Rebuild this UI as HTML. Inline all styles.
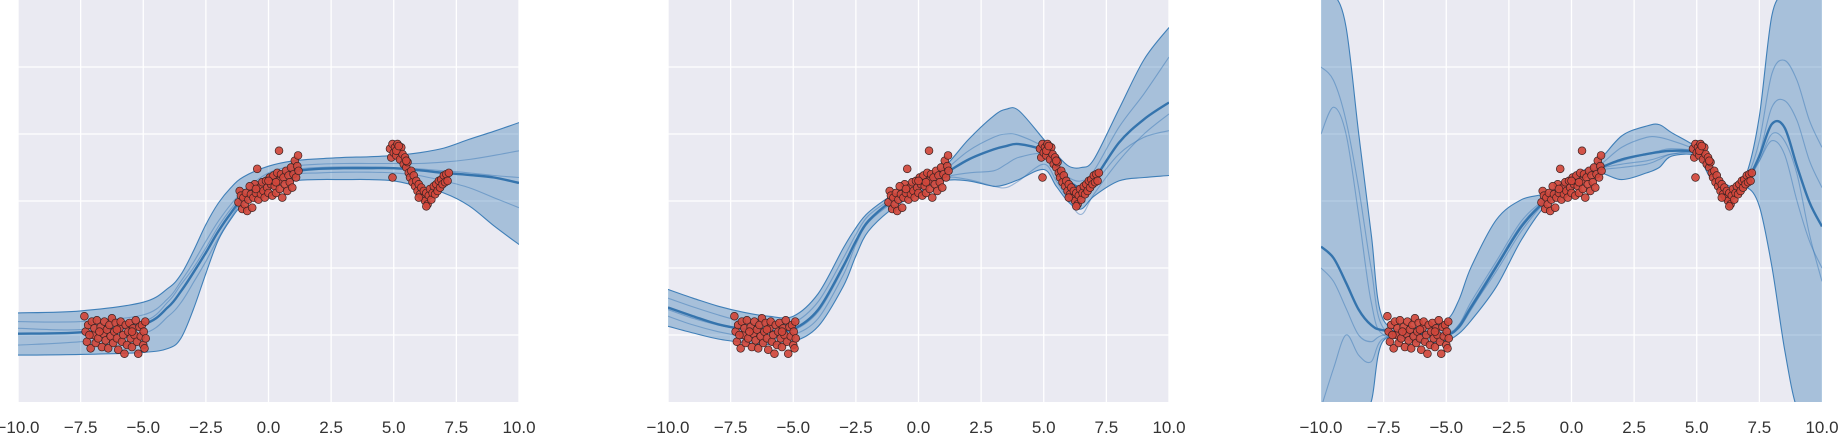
<!DOCTYPE html>
<html><head><meta charset="utf-8">
<style>
html,body{margin:0;padding:0;background:#fff;width:1848px;height:448px;overflow:hidden}
svg{display:block;overflow:hidden}
text{font-family:"Liberation Sans",sans-serif;font-size:17px;fill:#333}
</style></head>
<body>
<svg id="chart" width="1848" height="448" viewBox="0 0 1848 448" xmlns="http://www.w3.org/2000/svg"></svg>
<script>
const xTicks=[-10,-7.5,-5,-2.5,0,2.5,5,7.5,10];
const xTickLabels=["\u221210.0","\u22127.5","\u22125.0","\u22122.5","0.0","2.5","5.0","7.5","10.0"];
const yGrid=[-2,-1,0,1,2];
const dataPoints=[[-7.35,-1.72],[-7.3,-1.95],[-7.25,-2.1],[-7.2,-1.85],[-7.1,-2.2],[-7.05,-1.8],[-7.0,-2.0],[-6.95,-1.9],[-6.9,-2.12],[-6.85,-1.78],[-6.8,-2.05],[-6.7,-1.88],[-6.65,-2.18],[-6.6,-1.98],[-6.55,-1.8],[-6.5,-2.08],[-6.45,-1.92],[-6.4,-2.2],[-6.35,-1.85],[-6.3,-2.02],[-6.25,-1.75],[-6.2,-2.12],[-6.15,-1.95],[-6.1,-1.82],[-6.05,-2.05],[-6.0,-2.22],[-5.95,-1.9],[-5.9,-1.8],[-5.85,-2.1],[-5.8,-2.0],[-5.75,-2.28],[-5.7,-1.85],[-5.65,-2.15],[-5.6,-1.95],[-5.55,-1.82],[-5.5,-2.05],[-5.45,-2.18],[-5.4,-1.9],[-5.35,-2.0],[-5.3,-1.78],[-5.25,-2.1],[-5.2,-2.28],[-5.15,-1.88],[-5.1,-2.02],[-5.05,-1.85],[-5.0,-2.15],[-4.98,-1.95],[-4.95,-2.2],[-4.92,-1.8],[-4.9,-2.05],[-7.15,-2.0],[-6.75,-1.95],[-6.05,-1.92],[-5.45,-1.95],
[-1.2,-0.02],[-1.15,0.15],[-1.1,0.08],[-1.05,-0.12],[-1.0,0.05],[-0.95,-0.05],[-0.9,0.12],[-0.85,-0.15],[-0.8,0.02],[-0.7,0.1],[-0.65,-0.1],[-0.6,0.05],[-0.55,0.25],[-0.5,0.12],[-0.45,0.48],[-0.4,0.02],[-0.35,0.2],[-0.3,0.1],[-0.25,0.28],[-0.2,0.15],[-0.15,0.05],[-0.1,0.3],[-0.05,0.2],[0.0,0.12],[0.05,0.35],[0.1,0.25],[0.15,0.08],[0.2,0.38],[0.25,0.22],[0.3,0.12],[0.35,0.42],[0.4,0.3],[0.42,0.75],[0.45,0.18],[0.5,0.4],[0.55,0.05],[0.6,0.35],[0.65,0.25],[0.7,0.45],[0.75,0.15],[0.8,0.38],[0.85,0.28],[0.9,0.5],[0.95,0.2],[1.0,0.4],[1.05,0.6],[1.1,0.35],[1.15,0.52],[1.18,0.68],[1.2,0.45],[-0.75,0.22],[0.0,0.3],[0.3,0.28],[-0.5,0.18],
[4.85,0.78],[4.9,0.65],[4.95,0.35],[4.95,0.85],[5.0,0.72],[5.05,0.8],[5.1,0.68],[5.15,0.85],[5.2,0.75],[5.25,0.62],[5.3,0.8],[5.35,0.7],[5.4,0.55],[5.45,0.65],[5.5,0.5],[5.55,0.58],[5.6,0.42],[5.65,0.35],[5.7,0.45],[5.75,0.28],[5.8,0.38],[5.85,0.22],[5.9,0.3],[5.95,0.15],[6.0,0.25],[6.05,0.1],[6.1,0.2],[6.15,0.05],[6.2,0.15],[6.25,0.0],[6.3,0.12],[6.35,-0.05],[6.4,0.08],[6.45,0.18],[6.5,0.02],[6.55,0.12],[6.6,0.22],[6.65,0.1],[6.7,0.25],[6.75,0.15],[6.8,0.3],[6.85,0.2],[6.9,0.32],[6.95,0.25],[7.0,0.38],[7.05,0.28],[7.1,0.4],[7.15,0.3],[7.2,0.42],[5.1,0.75],[5.2,0.82],[6.3,-0.08],[6.0,0.05],[5.5,0.6]];

const p1X=[-10,-7.5,-5,-4,-3.5,-3,-2.5,-2,-1.5,-1,0,1,2,3,4,5,6,7,8,9,10];
const p1Mean=[-1.98,-1.96,-1.84,-1.58,-1.35,-1.07,-0.77,-0.45,-0.18,0.05,0.33,0.44,0.48,0.49,0.49,0.49,0.46,0.42,0.39,0.35,0.27];
const p1Upper=[-1.67,-1.64,-1.51,-1.3,-1.1,-0.75,-0.35,-0.03,0.2,0.36,0.52,0.6,0.63,0.65,0.66,0.68,0.72,0.79,0.92,1.04,1.17];
const p1Lower=[-2.3,-2.29,-2.26,-2.2,-2.05,-1.62,-1.08,-0.58,-0.27,-0.04,0.2,0.3,0.32,0.32,0.32,0.3,0.22,0.12,-0.07,-0.37,-0.65];
const p1S1=[-1.8,-1.8,-1.7,-1.45,-1.2,-0.92,-0.6,-0.3,-0.05,0.15,0.42,0.52,0.55,0.56,0.56,0.56,0.56,0.58,0.62,0.68,0.75];
const p1S2=[-2.15,-2.1,-1.98,-1.72,-1.52,-1.22,-0.9,-0.55,-0.25,0.02,0.3,0.4,0.42,0.43,0.43,0.42,0.38,0.3,0.2,0.05,-0.1];
const p1S3=[-1.9,-1.92,-1.8,-1.5,-1.25,-1.0,-0.7,-0.38,-0.12,0.1,0.38,0.47,0.5,0.51,0.51,0.5,0.48,0.45,0.42,0.38,0.35];

const p2X=[-10,-9,-8,-7,-6,-5,-4,-3,-2.5,-2,-1,0,1,2,3,3.5,4,5,5.5,6,6.5,7,8,9,10];
const p2Mean=[-1.59,-1.72,-1.84,-1.91,-1.94,-1.91,-1.62,-0.97,-0.6,-0.3,0.02,0.22,0.4,0.62,0.77,0.82,0.85,0.75,0.52,0.3,0.2,0.32,0.87,1.22,1.47];
const p2Upper=[-1.32,-1.45,-1.57,-1.66,-1.72,-1.72,-1.38,-0.7,-0.4,-0.17,0.1,0.3,0.5,0.92,1.27,1.37,1.35,0.92,0.7,0.52,0.5,0.62,1.37,2.11,2.59];
const p2Lower=[-1.87,-1.97,-2.06,-2.11,-2.14,-2.1,-1.87,-1.27,-0.82,-0.45,-0.1,0.12,0.3,0.3,0.22,0.25,0.32,0.47,0.22,-0.02,-0.12,0.07,0.3,0.35,0.38];
const p2S1=[-1.45,-1.58,-1.7,-1.8,-1.85,-1.82,-1.5,-0.85,-0.5,-0.22,0.05,0.25,0.45,0.75,0.95,1.0,0.98,0.8,0.55,0.35,0.3,0.45,1.1,1.6,2.15];
const p2S2=[-1.72,-1.85,-1.95,-2.02,-2.05,-2.0,-1.75,-1.1,-0.65,-0.32,-0.02,0.18,0.35,0.42,0.45,0.55,0.65,0.7,0.45,0.2,0.1,0.25,0.7,0.95,1.05];
const p2S3=[-1.62,-1.75,-1.85,-1.92,-1.96,-1.93,-1.65,-1.0,-0.6,-0.28,0.0,0.2,0.35,0.32,0.22,0.2,0.3,0.55,0.3,0.0,-0.2,0.1,0.6,1.0,1.3];

const p3X=[-10,-9.5,-9,-8.5,-8,-7.5,-6,-5,-4.5,-4,-3,-2,-1,0,1,2,3,3.5,4,5,5.5,6,6.5,7,7.5,8,8.5,9,9.5,10];
const p3Mean=[-0.68,-0.85,-1.22,-1.62,-1.85,-1.93,-1.98,-2.0,-1.88,-1.58,-0.98,-0.38,0.02,0.3,0.47,0.62,0.7,0.73,0.75,0.72,0.47,0.22,0.15,0.3,0.67,1.15,1.1,0.52,-0.02,-0.38];
const p3Upper=[5,3.8,2.6,1.02,-0.48,-1.78,-1.88,-1.78,-1.48,-0.98,-0.28,0.02,0.12,0.37,0.57,0.97,1.12,1.14,1.02,0.8,0.57,0.3,0.22,0.42,1.27,2.77,4,5,6,7];
const p3Lower=[-8,-7,-6,-4.5,-3.0,-2.08,-2.12,-2.08,-1.98,-1.78,-1.28,-0.58,-0.05,0.22,0.42,0.32,0.42,0.5,0.67,0.67,0.37,0.15,0.07,0.2,-0.08,-0.98,-2.2,-3.2,-5,-7];
const p3S1=[2.0,1.8,1.2,0.2,-1.0,-1.9,-1.98,-1.98,-1.85,-1.5,-0.9,-0.3,0.05,0.33,0.5,0.8,0.95,0.95,0.9,0.75,0.5,0.25,0.15,0.35,0.9,1.9,2.1,1.8,1.2,0.8];
const p3S2=[1.0,1.4,1.0,-0.2,-1.5,-2.0,-2.0,-1.95,-1.9,-1.6,-1.05,-0.45,0.0,0.28,0.45,0.5,0.55,0.62,0.7,0.7,0.45,0.2,0.12,0.28,0.6,1.0,0.9,0.4,-0.5,-1.2];
const p3S3=[-1.0,-1.2,-1.6,-2.0,-2.1,-2.0,-1.97,-2.0,-1.9,-1.62,-1.0,-0.4,0.02,0.3,0.48,0.6,0.7,0.75,0.78,0.73,0.48,0.22,0.15,0.3,0.7,1.4,1.5,1.2,0.6,0.2];
const p3S4=[-3.5,-2.5,-2.0,-2.3,-2.4,-2.05,-1.98,-2.0,-1.85,-1.55,-0.95,-0.35,0.03,0.31,0.47,0.55,0.6,0.65,0.7,0.72,0.46,0.21,0.15,0.3,0.6,0.9,0.7,0.0,-0.6,-1.0];

const NS="http://www.w3.org/2000/svg";
const svg=document.getElementById('chart');
const PT=0,PB=402,YMIN=-3,YMAX=3;
const panels=[
 {name:'panel-1',x0:18,x1:519,xs:p1X,mean:p1Mean,up:p1Upper,lo:p1Lower,samples:[p1S1,p1S2,p1S3]},
 {name:'panel-2',x0:668,x1:1169,xs:p2X,mean:p2Mean,up:p2Upper,lo:p2Lower,samples:[p2S1,p2S2,p2S3]},
 {name:'panel-3',x0:1321,x1:1822,xs:p3X,mean:p3Mean,up:p3Upper,lo:p3Lower,samples:[p3S1,p3S2,p3S3,p3S4]}
];
function mk(tag,attrs,parent){const e=document.createElementNS(NS,tag);for(const k in attrs)e.setAttribute(k,attrs[k]);(parent||svg).appendChild(e);return e;}
function crPath(pts,move){
 let d=move?`M${pts[0][0].toFixed(1)},${pts[0][1].toFixed(1)}`:`L${pts[0][0].toFixed(1)},${pts[0][1].toFixed(1)}`;
 for(let i=0;i<pts.length-1;i++){
  const p0=pts[Math.max(0,i-1)],p1=pts[i],p2=pts[i+1],p3=pts[Math.min(pts.length-1,i+2)];
  const c1=[p1[0]+(p2[0]-p0[0])/6,p1[1]+(p2[1]-p0[1])/6];
  const c2=[p2[0]-(p3[0]-p1[0])/6,p2[1]-(p3[1]-p1[1])/6];
  d+=`C${c1[0].toFixed(1)},${c1[1].toFixed(1)} ${c2[0].toFixed(1)},${c2[1].toFixed(1)} ${p2[0].toFixed(1)},${p2[1].toFixed(1)}`;
 }
 return d;
}
panels.forEach((P,pi)=>{
 const sx=v=>P.x0+(v+10)/20*(P.x1-P.x0);
 const syRaw=v=>PT+(YMAX-v)/(YMAX-YMIN)*(PB-PT);
 const sy=v=>Math.max(PT-6,Math.min(PB+6,syRaw(v)));
 const g=mk('g',{});
 
 
 const cp=mk('clipPath',{id:'clip'+pi},g);
 mk('rect',{x:P.x0,y:PT,width:P.x1-P.x0,height:PB-PT},cp);
 const bg=mk('rect',{x:P.x0,y:PT,width:P.x1-P.x0,height:PB-PT,fill:'#eaeaf2'},g);
 
 
 xTicks.forEach((t,i)=>{
  const l=mk('line',{x1:sx(t),x2:sx(t),y1:PT,y2:PB,stroke:'#fff','stroke-width':1.3},g);
  
  
  const tx=mk('text',{x:sx(t),y:433,'text-anchor':'middle'},g);
  tx.textContent=xTickLabels[i];
  
  
 });
 yGrid.forEach(t=>{
  const l=mk('line',{x1:P.x0,x2:P.x1,y1:sy(t),y2:sy(t),stroke:'#fff','stroke-width':1.3},g);
  
  
 });
 const cg=mk('g',{'clip-path':`url(#clip${pi})`},g);
 const up=P.xs.map((x,i)=>[sx(x),sy(P.up[i])]);
 const lo=P.xs.map((x,i)=>[sx(x),sy(P.lo[i])]).reverse();
 const band=mk('path',{d:crPath(up,true)+crPath(lo,false)+'Z',fill:'rgba(31,105,170,0.33)',stroke:'none'},cg);
 
 
 [up,lo].forEach(pts=>{
  const e=mk('path',{d:crPath(pts,true),fill:'none',stroke:'#3f7fb8','stroke-width':1.1},cg);
  
  
 });
 P.samples.forEach(s=>{
  const e=mk('path',{d:crPath(P.xs.map((x,i)=>[sx(x),sy(s[i])]),true),fill:'none',stroke:'rgba(50,115,180,0.45)','stroke-width':1.1},cg);
  
  
 });
 const m=mk('path',{d:crPath(P.xs.map((x,i)=>[sx(x),sy(P.mean[i])]),true),fill:'none',stroke:'#3574ad','stroke-width':2.4},cg);
 
 
 dataPoints.forEach(p=>{
  const c=mk('circle',{cx:sx(p[0]),cy:sy(p[1]),r:3.9,fill:'#d0463b',stroke:'#3a2222','stroke-width':0.7,'fill-opacity':0.92},cg);
  
  
 });
});
</script>
</body></html>
